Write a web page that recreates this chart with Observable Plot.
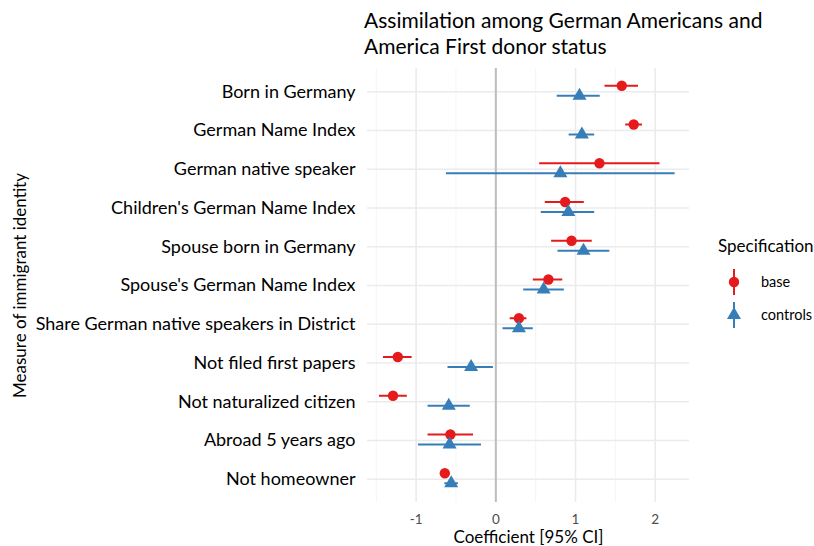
<!DOCTYPE html>
<html>
<head>
<meta charset="utf-8">
<script src="https://cdn.jsdelivr.net/npm/d3@7"></script>
<script src="https://cdn.jsdelivr.net/npm/@observablehq/plot@0.6"></script>
<style>
  body { margin: 0; background: #fff; font-family: Lato, "Open Sans", sans-serif; }
  #wrap { position: relative; width: 814px; height: 546px; }
  #title { position: absolute; left: 364px; top: 7px; font-size: 21px; line-height: 26px; color: #000; }
  #chart { position: absolute; left: 0; top: 62px; }
  #legend { position: absolute; left: 718px; top: 235px; }
  #legend .ttl { font-size: 17px; color: #000; white-space: nowrap; }
  #legend svg { display: block; margin-top: 4px; }
</style>
</head>
<body>
<div id="wrap">
  <div id="title">Assimilation among German Americans and<br>America First donor status</div>
  <div id="chart"></div>
  <div id="legend">
    <div class="ttl">Specification</div>
    <svg width="96" height="72"></svg>
  </div>
</div>
<script>
// Measures of immigrant identity, top to bottom
const categories = [
  "Born in Germany",
  "German Name Index",
  "German native speaker",
  "Children's German Name Index",
  "Spouse born in Germany",
  "Spouse's German Name Index",
  "Share German native speakers in District",
  "Not filed first papers",
  "Not naturalized citizen",
  "Abroad 5 years ago",
  "Not homeowner"
];

// Base specification: coefficient and 95% CI
const baseEst = [1.58, 1.73, 1.30, 0.87, 0.95, 0.66, 0.29, -1.23, -1.29, -0.57, -0.64];
const baseLo  = [1.37, 1.63, 0.55, 0.62, 0.70, 0.47, 0.18, -1.41, -1.46, -0.85, -0.67];
const baseHi  = [1.79, 1.84, 2.06, 1.11, 1.21, 0.84, 0.39, -1.05, -1.11, -0.28, -0.60];

// Specification with controls: coefficient and 95% CI
const ctrlEst = [1.05, 1.08, 0.81, 0.91, 1.10, 0.60, 0.29, -0.31, -0.59, -0.58, -0.56];
const ctrlLo  = [0.77, 0.92, -0.62, 0.57, 0.78, 0.35, 0.09, -0.60, -0.85, -0.97, -0.64];
const ctrlHi  = [1.31, 1.24, 2.25, 1.24, 1.43, 0.86, 0.47, -0.03, -0.32, -0.18, -0.47];

const majorTicks = [-1, 0, 1, 2];
const minorTicks = [-1.5, -0.5, 0.5, 1.5];
const specs = ["base", "controls"];
const specColors = ["#E41A1C", "#377EB8"];

const base = categories.map((c, i) => ({measure: c, est: baseEst[i], lo: baseLo[i], hi: baseHi[i]}));
const ctrl = categories.map((c, i) => ({measure: c, est: ctrlEst[i], lo: ctrlLo[i], hi: ctrlHi[i]}));

const chart = Plot.plot({
  width: 814,
  height: 484,
  marginLeft: 367,
  marginRight: 125,
  marginTop: 6,
  marginBottom: 44,
  style: {fontFamily: "Lato, 'Open Sans', sans-serif", background: "#fff", color: "#000"},
  x: {domain: [-1.61, 2.43]},
  y: {type: "point", domain: categories, padding: 0.6, round: false},
  marks: [
    Plot.gridX(minorTicks, {stroke: "#f2f2f2", strokeOpacity: 1, strokeWidth: 0.8}),
    Plot.gridX(majorTicks, {stroke: "#ebebeb", strokeOpacity: 1, strokeWidth: 1.6}),
    Plot.gridY(categories, {stroke: "#ebebeb", strokeOpacity: 1, strokeWidth: 1.6}),
    Plot.ruleX([0], {stroke: "#bdbdbd", strokeWidth: 2}),
    // x tick labels and axis title
    Plot.axisX(majorTicks, {
      tickSize: 0, tickPadding: 12, fontSize: 13.5, color: "#4d4d4d",
      tickFormat: d => d, label: null
    }),
    Plot.axisX([], {
      tickSize: 0, fontSize: 17, label: "Coefficient [95% CI]", labelAnchor: "center",
      labelArrow: "none", labelOffset: 40
    }),
    // y tick labels and axis title
    Plot.axisY({tickSize: 0, tickPadding: 12, fontSize: 18, label: null}),
    Plot.axisY([], {
      tickSize: 0, fontSize: 17, label: "Measure of immigrant identity", labelAnchor: "center",
      labelArrow: "none", labelOffset: 354
    }),
    // base: circles with CI bars, nudged up
    Plot.ruleY(base, {y: "measure", x1: "lo", x2: "hi", dy: -6, stroke: specColors[0], strokeWidth: 2}),
    Plot.dot(base, {y: "measure", x: "est", dy: -6, r: 5.2, fill: specColors[0], stroke: "none"}),
    // controls: triangles with CI bars, nudged down
    Plot.ruleY(ctrl, {y: "measure", x1: "lo", x2: "hi", dy: 4, stroke: specColors[1], strokeWidth: 2}),
    Plot.dot(ctrl, {y: "measure", x: "est", dy: 4, r: 5.2, symbol: "triangle", fill: specColors[1], stroke: "none"})
  ]
});
document.getElementById("chart").append(chart);

// Key for the two specifications
const lg = d3.select("#legend svg");
specs.forEach((s, i) => {
  const cy = 22 + i * 33;
  lg.append("line").attr("x1", 16).attr("x2", 16).attr("y1", cy - 13).attr("y2", cy + 13)
    .attr("stroke", specColors[i]).attr("stroke-width", 2);
  if (i === 0) {
    lg.append("circle").attr("cx", 16).attr("cy", cy).attr("r", 5.2).attr("fill", specColors[i]);
  } else {
    lg.append("path").attr("d", d3.symbol(d3.symbolTriangle, Math.PI * 5.2 * 5.2)())
      .attr("transform", `translate(16,${cy})`).attr("fill", specColors[i]);
  }
  lg.append("text").attr("x", 43).attr("y", cy).attr("dy", "0.35em")
    .attr("font-size", 14.5).attr("font-family", "Lato, 'Open Sans', sans-serif").text(s);
});
</script>
</body>
</html>
